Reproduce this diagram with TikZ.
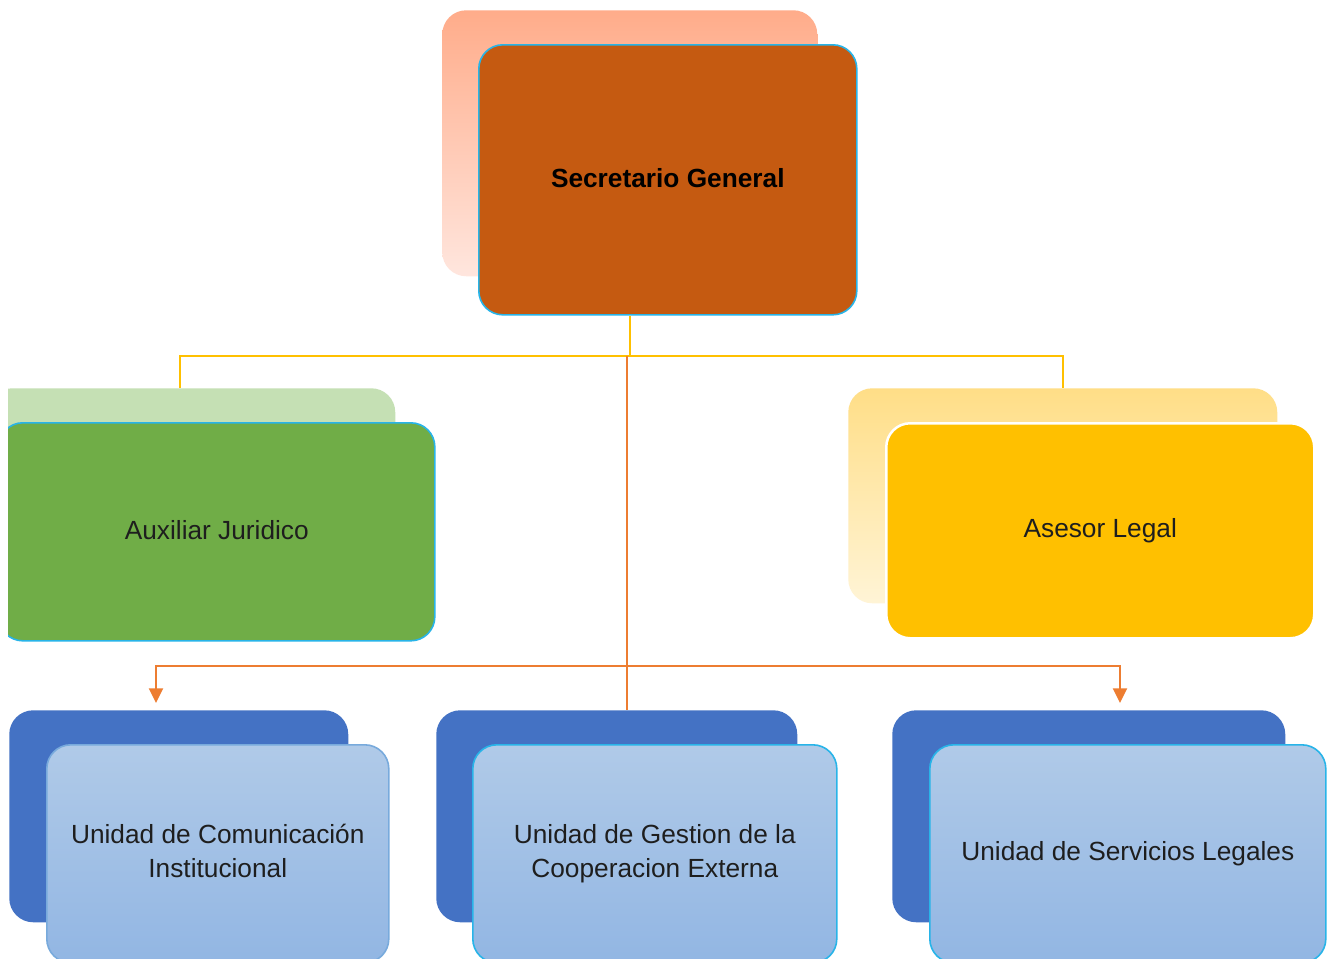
\documentclass[tikz,border=0pt]{standalone}
\usepackage{fontspec}
\setmainfont{Liberation Sans}
\usetikzlibrary{arrows.meta}
\newlength{\px}\setlength{\px}{0.75pt}
\definecolor{salmonTop}{RGB}{255,172,138}
\definecolor{salmonBot}{RGB}{255,230,222}
\definecolor{rust}{RGB}{197,90,17}
\definecolor{edgeblue}{RGB}{40,180,232}
\definecolor{lightgreen}{RGB}{197,224,180}
\definecolor{green}{RGB}{112,173,71}
\definecolor{ylTop}{RGB}{255,222,135}
\definecolor{ylBot}{RGB}{255,244,214}
\definecolor{gold}{RGB}{255,192,0}
\definecolor{royal}{RGB}{68,114,196}
\definecolor{skyTop}{RGB}{176,202,232}
\definecolor{skyBot}{RGB}{146,182,227}
\definecolor{softedge}{RGB}{120,170,220}
\definecolor{orangeline}{RGB}{237,125,49}
\definecolor{txt}{RGB}{30,30,30}
\newcommand{\liftone}[1]{\raisebox{2.25pt}{#1}}
\newcommand{\lifttwo}[2]{\raisebox{1.5pt}{\begin{tabular}{@{}c@{}}#1\\#2\end{tabular}}}
\tikzset{
  card/.style={rounded corners=24\px, anchor=north west, inner sep=0pt, align=center,
    text=txt, font=\fontsize{19.7}{25.5}\selectfont},
  backcard/.style={card},
  frontcard/.style={card, line width=1.6\px},
  yline/.style={draw=gold, line width=2\px},
  oline/.style={draw=orangeline, line width=2\px},
  otip/.tip={Triangle[width=10.5pt,length=11pt]},
}
\begin{document}
\begin{tikzpicture}[x=0.75pt,y=-0.75pt]
\useasboundingbox (0,0) rectangle (1327,958);
\fill[white] (0,0) rectangle (1327,958);
\clip (0,0) rectangle (1327,958);

% junction coordinates
\coordinate (j) at (630,356);
\coordinate (jl) at (180,356);
\coordinate (jr) at (1063,356);
\coordinate (k) at (627,356);
\coordinate (h) at (627,666);
\coordinate (aL) at (156,703);
\coordinate (aR) at (1120,703);

% top
\node[backcard, top color=salmonTop, bottom color=salmonBot, minimum width=375\px, minimum height=266\px] (sgb) at (442,10) {};
\node[frontcard, fill=rust, draw=edgeblue, minimum width=378\px, minimum height=270\px, text=black, font=\fontsize{19.7}{25.5}\selectfont\bfseries] (sg) at (478,44) {\liftone{Secretario General}};

% middle left (cut at left)
\begin{scope}
\clip (8,0) rectangle (1327,958);
\node[backcard, fill=lightgreen, minimum width=407\px, minimum height=220\px] (auxb) at (-12,388) {};
\node[frontcard, fill=green, draw=edgeblue, minimum width=436\px, minimum height=218\px] (aux) at (-2,422) {\liftone{Auxiliar Juridico}};
\end{scope}

% middle right
\node[backcard, top color=ylTop, bottom color=ylBot, minimum width=429\px, minimum height=215\px] (asb) at (848,388) {};
\node[frontcard, fill=gold, draw=white, line width=2.5\px, minimum width=428\px, minimum height=215\px] (as) at (885,422) {\liftone{Asesor Legal}};

% bottom row
\node[backcard, fill=royal, minimum width=339\px, minimum height=212\px] (ucb) at (9,710) {};
\node[frontcard, top color=skyTop, bottom color=skyBot, draw=softedge, minimum width=342\px, minimum height=218\px] (uc) at (46,744) {\lifttwo{Unidad de Comunicación}{Institucional}};

\node[backcard, fill=royal, minimum width=361\px, minimum height=212\px] (ugb) at (436,710) {};
\node[frontcard, top color=skyTop, bottom color=skyBot, draw=edgeblue, minimum width=364\px, minimum height=218\px] (ug) at (472,744) {\lifttwo{Unidad de Gestion de la}{Cooperacion Externa}};

\node[backcard, fill=royal, minimum width=393\px, minimum height=212\px] (usb) at (892,710) {};
\node[frontcard, top color=skyTop, bottom color=skyBot, draw=edgeblue, minimum width=396\px, minimum height=218\px] (us) at (929,744) {\liftone{Unidad de Servicios Legales}};

% connectors
\draw[yline] (sg.south -| j) -- (j);
\draw[yline] (auxb.north -| jl) -- (jl) -- (jr) -- (asb.north -| jr);
\draw[oline] (k) -- (ugb.north -| k);
\draw[oline, otip-otip] (aL) |- (h) -| (aR);
\end{tikzpicture}
\end{document}
